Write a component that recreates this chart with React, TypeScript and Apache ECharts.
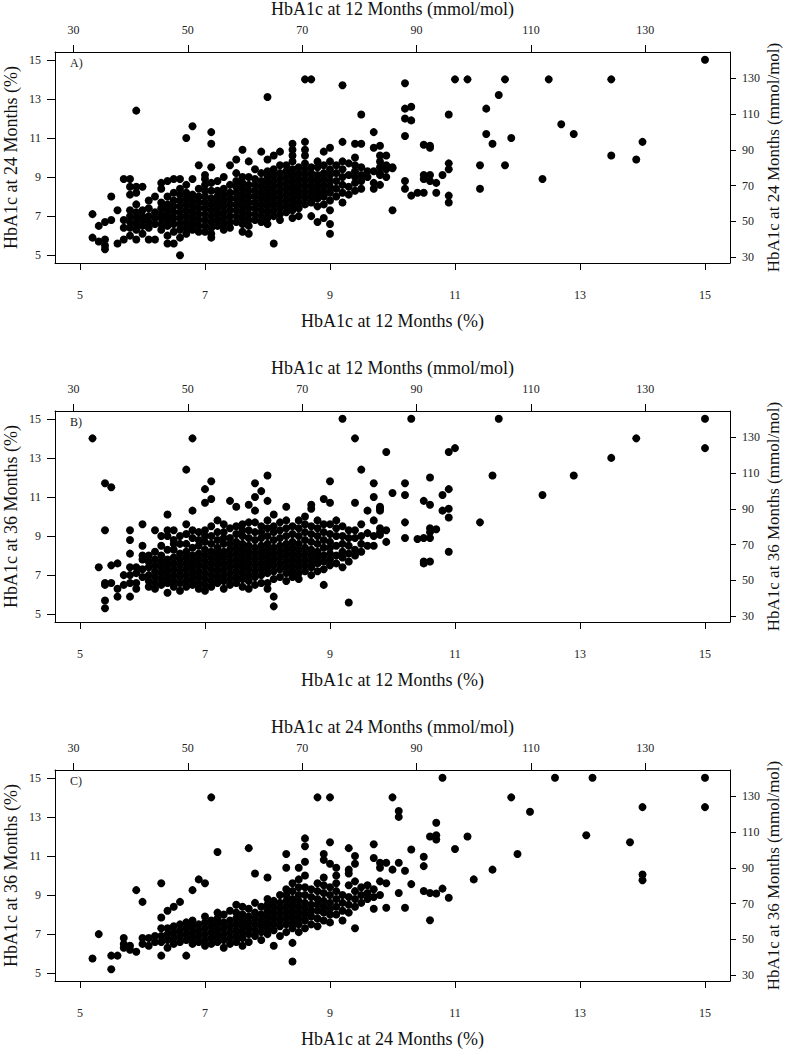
import React, { useEffect, useRef } from "react";
import * as echarts from "echarts";

// Tick values
const pctTicks = [5, 7, 9, 11, 13, 15];
const mmolTicks = [30, 50, 70, 90, 110, 130];

// Panel text
const panelTags = ["A)", "B)", "C)"];
const xTitles = ["HbA1c at 12 Months", "HbA1c at 12 Months", "HbA1c at 24 Months"];
const yTitles = ["HbA1c at 24 Months", "HbA1c at 36 Months", "HbA1c at 36 Months"];

// Panel A: columns [x, y values] and isolated points
const colsA: [number, number[]][] = [
  [5.2, [5.9, 7.1]],
  [5.3, [5.7, 6.5]],
  [5.4, [5.3, 5.5, 5.8, 6.7]],
  [5.5, [6.8, 8.0]],
  [5.6, [5.6, 7.3]],
  [5.7, [5.8, 6.4, 6.8, 8.9]],
  [5.8, [6.0, 6.4, 6.7, 7.0, 7.3, 8.1, 8.5, 8.9]],
  [5.9, [5.8, 6.3, 6.6, 6.9, 7.2, 7.6, 8.2, 8.5, 12.4]],
  [6.0, [6.1, 6.5, 6.8, 7.0, 7.3, 8.5]],
  [6.1, [5.8, 6.4, 6.7, 7.0, 7.4, 7.8]],
  [6.2, [5.8, 6.6, 6.9, 7.2, 8.0]],
  [6.3, [6.3, 6.6, 6.9, 7.1, 7.4, 7.7, 8.4, 8.7]],
  [6.4, [5.6, 6.0, 6.5, 6.8, 7.0, 7.3, 7.6, 8.0, 8.8]],
  [6.5, [5.6, 6.2, 6.6, 6.9, 7.2, 7.5, 7.8, 8.2, 8.9]],
  [6.6, [5.0, 5.9, 6.3, 6.6, 6.9, 7.2, 7.5, 7.8, 8.1, 8.4, 8.9]],
  [6.7, [6.1, 6.4, 6.7, 7.0, 7.3, 7.6, 7.9, 8.2, 8.6, 11.0]],
  [6.8, [6.3, 6.6, 6.9, 7.2, 7.5, 7.8, 8.1, 8.9, 11.6]],
  [6.9, [6.2, 6.5, 6.8, 7.1, 7.4, 7.7, 8.0, 8.4, 9.6]],
  [7.0, [6.2, 6.5, 6.8, 7.1, 7.4, 7.7, 8.0, 8.3, 8.6, 8.9, 9.1]],
  [7.1, [5.9, 6.1, 6.4, 6.7, 7.0, 7.3, 7.6, 7.9, 8.3, 8.7, 9.5, 10.7, 11.3]],
  [7.2, [6.5, 6.8, 7.1, 7.4, 7.7, 8.0, 8.3, 8.8]],
  [7.3, [6.3, 6.6, 6.9, 7.2, 7.5, 7.8, 8.1, 8.4, 9.0]],
  [7.4, [6.4, 6.7, 7.0, 7.3, 7.6, 7.9, 8.2, 8.6, 9.6]],
  [7.5, [6.7, 7.0, 7.3, 7.6, 7.9, 8.2, 8.5, 8.8, 9.2, 9.9]],
  [7.6, [6.2, 6.6, 6.9, 7.2, 7.5, 7.8, 8.1, 8.4, 8.7, 9.0, 10.4]],
  [7.7, [6.1, 6.5, 6.8, 7.1, 7.4, 7.7, 8.0, 8.3, 8.6, 9.0, 9.8]],
  [7.8, [6.8, 7.1, 7.4, 7.7, 8.0, 8.3, 8.6, 8.9, 9.4]],
  [7.9, [6.7, 7.0, 7.3, 7.6, 7.9, 8.2, 8.5, 8.8, 9.2, 10.3]],
  [8.0, [6.6, 6.9, 7.2, 7.5, 7.8, 8.1, 8.4, 8.7, 9.0, 9.3, 9.9, 13.1]],
  [8.1, [5.6, 7.0, 7.3, 7.6, 7.9, 8.2, 8.5, 8.8, 9.1, 9.4, 10.1]],
  [8.2, [6.8, 7.1, 7.4, 7.7, 8.0, 8.3, 8.6, 8.9, 9.2, 9.6, 10.3]],
  [8.3, [7.2, 7.5, 7.8, 8.1, 8.4, 8.7, 9.0, 9.3, 9.6]],
  [8.4, [6.9, 7.3, 7.6, 7.9, 8.2, 8.5, 8.8, 9.1, 9.4, 9.8, 10.1, 10.4, 10.7]],
  [8.5, [7.0, 7.4, 7.7, 8.0, 8.3, 8.6, 8.9, 9.2, 9.5]],
  [8.6, [7.6, 7.9, 8.2, 8.5, 8.8, 9.1, 9.4, 9.7, 10.1, 10.4, 10.8, 14.0]],
  [8.7, [7.0, 7.7, 8.0, 8.3, 8.6, 8.9, 9.2, 9.5, 14.0]],
  [8.8, [6.7, 7.5, 7.9, 8.2, 8.5, 8.8, 9.1, 9.5, 9.8]],
  [8.9, [6.9, 7.6, 8.0, 8.3, 8.6, 8.9, 9.2, 9.6, 10.3]],
  [9.0, [6.1, 6.6, 7.3, 7.8, 8.2, 8.5, 8.8, 9.1, 9.4, 9.8, 10.5]],
  [9.1, [8.0, 8.4, 8.8, 9.2, 9.6]],
  [9.2, [7.7, 8.2, 8.6, 9.0, 9.4, 9.8, 10.8, 13.7]],
  [9.3, [8.1, 8.5, 9.1, 9.7]],
  [9.4, [8.3, 8.7, 9.0, 9.3, 9.6, 10.0, 10.7]],
  [9.5, [8.4, 8.8, 9.1, 9.5, 10.7, 12.2]],
  [9.6, [9.0, 9.3]],
  [9.7, [8.4, 8.7, 9.3, 10.5, 11.3]],
  [9.8, [8.6, 9.1, 9.2, 9.5, 9.8, 10.1, 10.6]],
  [9.9, [9.0, 9.4, 9.6, 10.1]],
  [10.0, [7.3, 9.45, 9.5]],
];
const extraA: [number, number][] = [
  [10.2, 13.8], [10.2, 12.5], [10.2, 12.0], [10.2, 11.1], [10.3, 12.6], [10.3, 11.9],
  [10.2, 8.8], [10.2, 8.4], [10.3, 8.05], [10.4, 8.2], [10.5, 8.2], [10.5, 10.65],
  [10.6, 10.6], [10.6, 10.5], [10.5, 9.1], [10.5, 8.9], [10.6, 9.1], [10.6, 8.8],
  [10.7, 8.7], [10.7, 8.2], [10.8, 9.1], [10.9, 12.2], [10.9, 9.7], [10.9, 9.4],
  [10.9, 8.05], [10.9, 7.7], [11.0, 14.0], [11.2, 14.0], [11.4, 9.6], [11.4, 8.4],
  [11.5, 12.5], [11.5, 11.2], [11.6, 10.7], [11.7, 13.2], [11.8, 14.0], [11.8, 9.6],
  [11.9, 11.0], [12.4, 8.9], [12.5, 14.0], [12.7, 11.7], [12.9, 11.2], [13.5, 14.0],
  [13.5, 10.1], [13.9, 9.9], [14.0, 10.8], [15.0, 15.0],
];

// Panel B
const colsB: [number, number[]][] = [
  [5.2, [14.0]],
  [5.3, [7.4]],
  [5.4, [5.3, 5.7, 6.5, 6.6, 9.3, 11.7]],
  [5.5, [6.6, 7.5, 11.5]],
  [5.6, [5.9, 6.3, 7.6]],
  [5.7, [6.5, 7.0]],
  [5.8, [5.9, 6.6, 7.0, 7.4, 8.1, 8.8, 9.3]],
  [5.9, [6.3, 6.6, 7.1, 7.4]],
  [6.0, [6.9, 7.3, 7.8, 8.0, 8.5, 9.6]],
  [6.1, [6.4, 6.7, 7.0, 7.4, 7.7, 8.0]],
  [6.2, [6.3, 6.6, 6.9, 7.2, 7.5, 7.8, 8.2, 9.3]],
  [6.3, [6.5, 6.8, 7.1, 7.4, 7.7, 8.0, 8.5, 9.0]],
  [6.4, [6.1, 6.6, 6.9, 7.2, 7.5, 7.8, 8.3, 9.0, 9.3, 10.1]],
  [6.5, [6.4, 6.7, 7.0, 7.3, 7.6, 7.9, 8.3, 8.6, 8.8, 9.3]],
  [6.6, [6.2, 6.6, 6.9, 7.2, 7.5, 7.8, 8.1, 8.6, 9.0]],
  [6.7, [6.4, 6.7, 7.0, 7.3, 7.6, 7.9, 8.2, 8.6, 9.1, 9.6, 12.4]],
  [6.8, [6.5, 6.8, 7.1, 7.4, 7.7, 8.0, 8.4, 8.9, 9.3, 10.3, 14.0]],
  [6.9, [6.3, 6.6, 6.9, 7.2, 7.5, 7.8, 8.1, 8.5, 8.8, 9.2]],
  [7.0, [6.2, 6.5, 6.8, 7.1, 7.4, 7.7, 8.0, 8.3, 8.7, 9.0, 9.3, 10.7, 11.4]],
  [7.1, [6.4, 6.7, 7.0, 7.3, 7.6, 7.9, 8.2, 8.6, 9.0, 9.5, 10.9, 11.8]],
  [7.2, [6.6, 6.9, 7.2, 7.5, 7.8, 8.1, 8.4, 8.8, 9.2, 9.8]],
  [7.3, [6.3, 6.7, 7.0, 7.3, 7.6, 7.9, 8.2, 8.6, 8.9, 9.2, 9.6]],
  [7.4, [6.5, 6.8, 7.1, 7.4, 7.7, 8.0, 8.3, 8.6, 8.9, 9.4, 10.8]],
  [7.5, [6.6, 6.9, 7.2, 7.5, 7.8, 8.1, 8.4, 8.7, 9.1, 9.5, 10.5]],
  [7.6, [6.4, 6.8, 7.1, 7.4, 7.7, 8.0, 8.3, 8.6, 9.0, 9.3, 9.6]],
  [7.7, [6.3, 6.7, 7.0, 7.3, 7.6, 7.9, 8.2, 8.5, 8.9, 9.3, 9.7, 10.6]],
  [7.8, [6.5, 6.9, 7.2, 7.5, 7.8, 8.1, 8.4, 8.8, 9.2, 9.7, 10.3, 11.0, 11.7]],
  [7.9, [6.6, 7.0, 7.3, 7.6, 7.9, 8.2, 8.5, 8.9, 9.2, 9.5, 11.3]],
  [8.0, [6.3, 6.6, 7.1, 7.4, 7.7, 8.0, 8.3, 8.6, 9.0, 9.4, 9.8, 10.8, 12.1]],
  [8.1, [5.4, 5.9, 6.8, 7.2, 7.5, 7.8, 8.1, 8.4, 8.8, 9.2, 9.5, 10.1]],
  [8.2, [6.9, 7.3, 7.6, 7.9, 8.2, 8.5, 8.9, 9.3, 9.7]],
  [8.3, [6.7, 7.1, 7.4, 7.7, 8.0, 8.3, 8.6, 9.0, 9.4, 9.8, 10.5]],
  [8.4, [6.9, 7.2, 7.5, 7.8, 8.1, 8.4, 8.7, 9.1, 9.5]],
  [8.5, [6.8, 7.1, 7.4, 7.7, 8.0, 8.3, 8.6, 9.0, 9.4, 9.8]],
  [8.6, [7.2, 7.5, 7.8, 8.1, 8.4, 8.8, 9.2, 9.6, 10.0]],
  [8.7, [7.0, 7.4, 7.7, 8.0, 8.3, 8.7, 9.1, 9.5, 10.4, 10.6]],
  [8.8, [7.2, 7.6, 7.9, 8.2, 8.6, 9.0, 9.4, 9.8]],
  [8.9, [6.5, 7.3, 7.7, 8.0, 8.4, 8.8, 9.2, 9.6, 10.9]],
  [9.0, [7.5, 7.8, 8.1, 8.4, 8.7, 9.1, 9.6, 10.7, 11.8]],
  [9.1, [7.6, 8.0, 8.5, 9.0, 9.4, 9.8]],
  [9.2, [7.4, 7.9, 8.2, 8.6, 9.0, 9.5, 15.0]],
  [9.3, [5.6, 7.7, 8.1, 8.5, 8.9, 9.3]],
  [9.4, [8.0, 8.3, 8.9, 9.3, 10.7, 14.0]],
  [9.5, [8.2, 8.6, 9.0, 9.6, 12.4]],
  [9.6, [8.5, 9.15, 10.3]],
  [9.7, [8.5, 9.0, 9.8, 11.0, 11.7]],
  [9.8, [9.06, 9.2, 9.4, 10.3, 10.4, 10.5]],
  [9.9, [8.7, 9.3, 13.3]],
  [10.0, [11.2]],
];
const extraB: [number, number][] = [
  [10.3, 15.0], [11.7, 15.0], [15.0, 15.0], [10.9, 13.3], [11.0, 13.5], [15.0, 13.5],
  [13.9, 14.0], [13.5, 13.0], [11.6, 12.1], [12.9, 12.1], [10.6, 12.0], [10.2, 11.7],
  [12.4, 11.1], [10.2, 11.1], [10.9, 11.4], [10.8, 11.1], [11.4, 9.7], [10.5, 10.8],
  [10.6, 10.6], [10.9, 10.4], [10.9, 9.95], [10.8, 10.3], [10.2, 9.7], [10.6, 9.4],
  [10.6, 9.2], [10.7, 9.35], [10.5, 8.9], [10.4, 8.85], [10.6, 8.9], [10.2, 8.9],
  [10.9, 8.2], [10.6, 7.7], [10.5, 7.7], [10.5, 7.6],
];

// Panel C
const colsC: [number, number[]][] = [
  [5.2, [5.75]],
  [5.3, [7.0]],
  [5.5, [5.2, 5.9]],
  [5.6, [5.9]],
  [5.7, [6.3, 6.5, 6.8]],
  [5.8, [6.2, 6.4]],
  [5.9, [6.1, 9.25]],
  [6.0, [6.5, 6.8, 8.65]],
  [6.1, [6.4, 6.8]],
  [6.2, [6.6, 6.9]],
  [6.3, [5.9, 6.6, 6.9, 7.3, 7.85, 9.6]],
  [6.4, [6.3, 6.7, 7.0, 7.3, 8.2]],
  [6.5, [6.5, 6.8, 7.1, 7.4, 8.4]],
  [6.6, [6.6, 6.9, 7.2, 7.5, 8.65]],
  [6.7, [5.9, 6.7, 7.0, 7.3, 7.6]],
  [6.8, [6.5, 6.8, 7.1, 7.4, 7.7, 9.25]],
  [6.9, [6.6, 6.9, 7.2, 7.5, 9.8]],
  [7.0, [6.4, 6.7, 7.0, 7.3, 7.6, 7.9, 9.6]],
  [7.1, [6.5, 6.8, 7.1, 7.4, 7.7, 14.0]],
  [7.2, [6.6, 6.9, 7.2, 7.5, 7.8, 8.1, 11.2]],
  [7.3, [6.3, 6.7, 7.0, 7.3, 7.6, 8.0]],
  [7.4, [6.5, 6.8, 7.1, 7.4, 7.7, 8.2]],
  [7.5, [6.6, 6.9, 7.2, 7.5, 7.8, 8.1, 8.5]],
  [7.6, [6.4, 6.8, 7.1, 7.4, 7.7, 8.0, 8.4]],
  [7.7, [6.6, 7.0, 7.3, 7.6, 7.9, 8.3, 11.4]],
  [7.8, [6.9, 7.2, 7.5, 7.8, 8.1, 8.6, 10.1]],
  [7.9, [6.7, 7.1, 7.4, 7.7, 8.0, 8.4]],
  [8.0, [7.0, 7.3, 7.6, 7.9, 8.2, 8.5, 8.8, 9.9]],
  [8.1, [6.4, 7.2, 7.5, 7.8, 8.1, 8.4, 8.7]],
  [8.2, [6.9, 7.4, 7.7, 8.0, 8.3, 8.6, 9.0]],
  [8.3, [7.1, 7.5, 7.8, 8.1, 8.4, 8.7, 9.0, 9.3, 10.4, 11.1]],
  [8.4, [5.6, 6.55, 7.3, 7.6, 7.9, 8.2, 8.5, 8.8, 9.2, 9.6]],
  [8.5, [7.1, 7.5, 7.8, 8.1, 8.4, 8.7, 9.0, 9.4, 9.8, 10.4]],
  [8.6, [7.3, 7.7, 8.0, 8.3, 8.6, 9.0, 9.4, 10.0, 10.7, 11.5, 11.9]],
  [8.7, [7.5, 7.9, 8.2, 8.5, 8.9, 9.3]],
  [8.8, [7.4, 7.8, 8.2, 8.5, 8.8, 9.2, 9.6, 14.0]],
  [8.9, [7.7, 8.1, 8.4, 8.7, 9.1, 9.5, 9.9, 10.8, 11.1]],
  [9.0, [7.6, 8.0, 8.3, 8.6, 9.0, 9.4, 10.6, 11.7, 14.0]],
  [9.1, [8.0, 8.4, 8.8, 9.2, 9.6, 10.0, 10.4]],
  [9.2, [7.7, 8.2, 8.6, 9.0]],
  [9.3, [8.1, 8.5, 8.9, 9.5, 10.1, 10.3, 11.4]],
  [9.4, [7.3, 8.4, 8.8, 9.2, 9.7, 10.6, 11.0]],
  [9.5, [8.6, 9.0, 9.4]],
  [9.6, [8.8, 9.1, 9.5]],
  [9.7, [8.3, 8.9, 9.3, 10.9, 11.6]],
  [9.8, [9.0, 9.7, 10.4, 10.65]],
  [9.9, [8.35, 9.6, 10.65]],
  [10.0, [10.3, 14.0]],
  [10.1, [9.1, 10.65, 13.0, 13.3]],
];
const extraC: [number, number][] = [
  [10.8, 15.0], [12.6, 15.0], [13.2, 15.0], [15.0, 15.0], [11.9, 14.0], [12.2, 13.26],
  [14.0, 13.5], [15.0, 13.5], [10.7, 12.7], [10.7, 12.06], [10.7, 11.84], [10.6, 12.0],
  [11.2, 12.0], [13.1, 12.06], [13.8, 11.7], [11.0, 11.36], [10.3, 11.33], [10.5, 10.96],
  [10.5, 10.48], [12.0, 11.1], [10.2, 10.24], [11.6, 10.3], [11.3, 9.8], [10.3, 9.56],
  [10.5, 9.21], [10.7, 9.08], [10.6, 9.1], [10.8, 9.33], [10.9, 8.86], [14.0, 10.05],
  [14.0, 9.76], [10.2, 8.35], [10.6, 7.71],
];

const panelCols = [colsA, colsB, colsC];
const panelExtras = [extraA, extraB, extraC];

const PCT_MIN = 4.6;
const PCT_MAX = 15.4;
const toMmol = (p: number) => (p - 2.15) * 10.929;

const FONT = "Liberation Serif";
const gridTops = [52, 411, 770];

function buildPoints(cols: [number, number[]][], extras: [number, number][]) {
  const pts: [number, number][] = [];
  cols.forEach(([x, ys]) => ys.forEach((y) => pts.push([x, y])));
  extras.forEach((p) => pts.push(p));
  return pts;
}

export default function App() {
  const ref = useRef<HTMLDivElement>(null);
  useEffect(() => {
    document.body.style.margin = "0";
    if (!ref.current) return;
    const chart = echarts.init(ref.current, null, { renderer: "svg" });

    const grids: any[] = [];
    const xAxes: any[] = [];
    const yAxes: any[] = [];
    const series: any[] = [];
    const graphics: any[] = [];

    const lineStyle = { color: "#000", width: 1 };
    const labelBase = { fontFamily: FONT, fontSize: 12, color: "#222" };
    const nameStyle = { fontFamily: FONT, fontSize: 18, color: "#111" };

    for (let i = 0; i < 3; i++) {
      grids.push({
        left: 55, width: 675, top: gridTops[i], height: 211,
        containLabel: false, outerBoundsMode: "none",
      });
      // bottom %
      xAxes.push({
        gridIndex: i, type: "value", position: "bottom", min: PCT_MIN, max: PCT_MAX,
        axisLine: { show: true, onZero: false, lineStyle },
        axisTick: { show: true, length: 7, customValues: pctTicks, lineStyle },
        axisLabel: { ...labelBase, margin: 26, customValues: pctTicks },
        splitLine: { show: false },
        name: xTitles[i] + " (%)", nameLocation: "middle", nameGap: 49, nameMoveOverlap: false,
        nameTextStyle: nameStyle,
      });
      // top mmol
      xAxes.push({
        gridIndex: i, type: "value", position: "top", min: toMmol(PCT_MIN), max: toMmol(PCT_MAX),
        axisLine: { show: true, onZero: false, lineStyle },
        axisTick: { show: true, length: 7, customValues: mmolTicks, lineStyle },
        axisLabel: { ...labelBase, margin: 16, customValues: mmolTicks },
        splitLine: { show: false },
        name: xTitles[i] + " (mmol/mol)", nameLocation: "middle", nameGap: 34, nameMoveOverlap: false,
        nameTextStyle: nameStyle,
      });
      // left %
      yAxes.push({
        gridIndex: i, type: "value", position: "left", min: PCT_MIN, max: PCT_MAX,
        axisLine: { show: true, onZero: false, lineStyle },
        axisTick: { show: true, length: 8, customValues: pctTicks, lineStyle },
        axisLabel: { ...labelBase, margin: 14, customValues: pctTicks },
        splitLine: { show: false },
        name: yTitles[i] + " (%)", nameLocation: "middle", nameGap: 35, nameRotate: 90, nameMoveOverlap: false,
        nameTextStyle: nameStyle,
      });
      // right mmol
      yAxes.push({
        gridIndex: i, type: "value", position: "right", min: toMmol(PCT_MIN), max: toMmol(PCT_MAX),
        axisLine: { show: true, onZero: false, lineStyle },
        axisTick: { show: true, length: 6, customValues: mmolTicks, lineStyle },
        axisLabel: { ...labelBase, margin: 12, customValues: mmolTicks },
        splitLine: { show: false },
        name: yTitles[i] + " (mmol/mol)", nameLocation: "middle", nameGap: 35, nameRotate: 90, nameMoveOverlap: false,
        nameTextStyle: { ...nameStyle, fontSize: 17 },
      });
      series.push({
        type: "scatter",
        xAxisIndex: i * 2,
        yAxisIndex: i * 2,
        data: buildPoints(panelCols[i], panelExtras[i]),
        symbol: "circle",
        symbolSize: 8,
        itemStyle: { color: "#000", opacity: 1 },
        silent: true,
      });
      graphics.push({
        type: "text",
        left: 70,
        top: gridTops[i] + 5,
        style: { text: panelTags[i], fontFamily: FONT, fontSize: 12, fill: "#222" },
      });
    }

    chart.setOption({
      animation: false,
      backgroundColor: "#fff",
      grid: grids,
      xAxis: xAxes,
      yAxis: yAxes,
      series,
      graphic: graphics,
    });
    return () => chart.dispose();
  }, []);
  return <div ref={ref} style={{ width: 787, height: 1049 }} />;
}
